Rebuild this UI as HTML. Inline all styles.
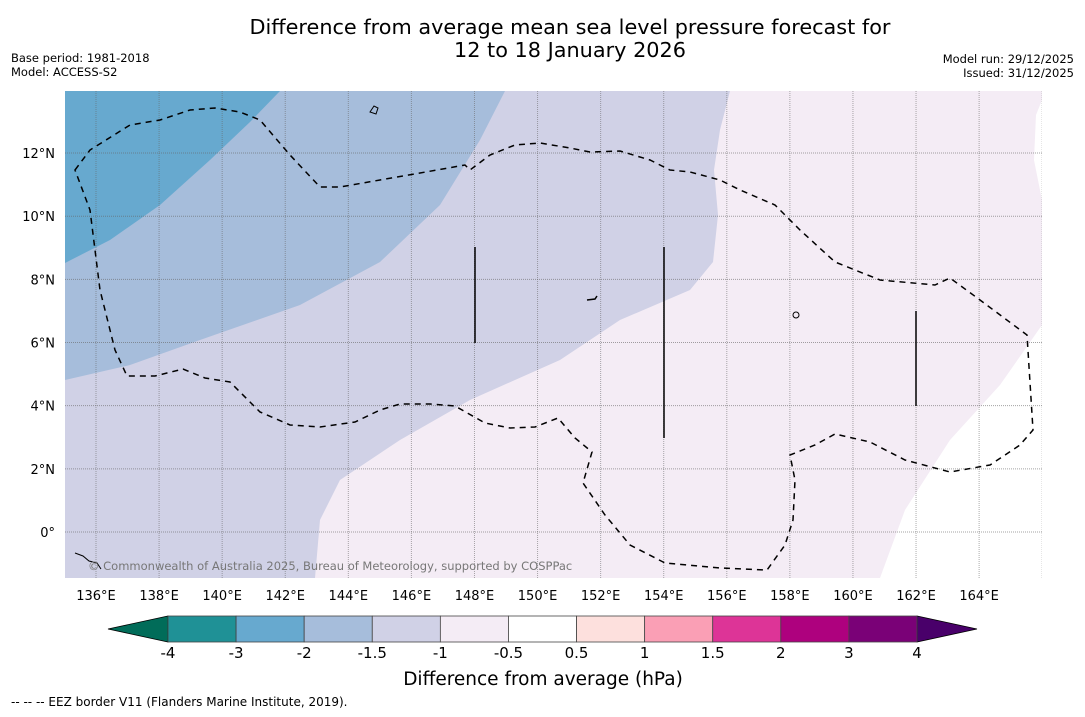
<!DOCTYPE html>
<html><head><meta charset="utf-8">
<style>
body{margin:0;background:#fff;font-family:"DejaVu Sans","Liberation Sans",sans-serif;}
svg text{font-family:"DejaVu Sans","Liberation Sans",sans-serif;}
</style></head>
<body>
<svg id="c" width="1085" height="713" viewBox="0 0 1085 713" xmlns="http://www.w3.org/2000/svg">
<rect width="1085" height="713" fill="#fff"/>
<text x="570" y="34" font-size="20.8" text-anchor="middle">Difference from average mean sea level pressure forecast for</text>
<text x="570" y="57" font-size="20.8" text-anchor="middle">12 to 18 January 2026</text>
<text x="11" y="62" font-size="11.5">Base period: 1981-2018</text>
<text x="11" y="76" font-size="11.5">Model: ACCESS-S2</text>
<text x="1074" y="63" font-size="11.5" text-anchor="end">Model run: 29/12/2025</text>
<text x="1074" y="77" font-size="11.5" text-anchor="end">Issued: 31/12/2025</text>
<defs><clipPath id="mc"><rect x="65" y="91" width="977" height="487"/></clipPath></defs>
<g clip-path="url(#mc)">
<rect x="65" y="91" width="977" height="487" fill="#f4ecf5"/>
<path d="M65,578 L315,578 L320,520 L340,480 L400,440 L470,400 L560,360 L620,320 L690,290 L713,262 L718,215 L714,170 L720,130 L730,91 L65,91Z" fill="#d0d1e6"/>
<path d="M65,380 L130,365 L200,340 L300,305 L380,262 L440,205 L480,140 L505,91 L65,91Z" fill="#a6bddb"/>
<path d="M65,263 L110,240 L160,205 L210,160 L250,122 L280,91 L65,91Z" fill="#67a9cf"/>
<path d="M880,578 L905,510 L950,440 L1000,385 L1042,325 L1042,578Z" fill="#fff"/>
<path d="M1042,100 L1036,115 L1034,160 L1042,200Z" fill="#fff"/>
<g id="grid"></g>
<path d="M75,170 L90,150 L130,125 L160,120 L190,110 L215,108 L240,112 L260,120 L290,155 L320,187 L340,187 L380,180 L420,173 L465,165 L470,170 L490,155 L515,145 L540,143 L570,148 L590,152 L620,151 L650,160 L670,170 L690,172 L720,180 L740,190 L775,205 L800,230 L835,262 L880,280 L935,285 L950,278 L980,300 L1027,335 L1033,430 L1020,445 L990,465 L950,472 L905,460 L870,442 L835,434 L815,445 L790,455 L795,480 L793,520 L785,545 L767,570 L720,568 L665,563 L630,545 L605,515 L583,483 L592,452 L575,438 L558,418 L535,427 L510,428 L485,423 L455,406 L430,404 L400,404 L380,410 L355,422 L320,427 L290,425 L260,412 L230,382 L205,378 L183,369 L155,376 L127,376 L115,350 L100,290 L90,210Z" fill="none" stroke="#000" stroke-width="1.5" stroke-dasharray="6,5"/>
<g stroke="#000" stroke-width="1.5">
<line x1="475" y1="247" x2="475" y2="343"/>
<line x1="664" y1="247" x2="664" y2="438"/>
<line x1="916" y1="311" x2="916" y2="406"/>
<path d="M370,112 l4,-6 l4,2 l-2,6z" fill="none" stroke-width="1"/>
<path d="M793,315 a3,3 0 1,0 6,0 a3,3 0 1,0 -6,0" fill="none" stroke-width="1"/>
<path d="M587,300 l8,-1 l2,-3" fill="none" stroke-width="1.5"/>
<path d="M75,553 l8,3 l6,5 l8,2 l4,6" fill="none" stroke-width="1"/>
</g>
<text x="88" y="570" font-size="11.5" fill="#777">© Commonwealth of Australia 2025, Bureau of Meteorology, supported by COSPPac</text>
</g>
<g id="axes"></g>
<g id="cbar"></g>
<text x="543" y="685" font-size="18.5" text-anchor="middle">Difference from average (hPa)</text>
<text x="11" y="706" font-size="12">--  --  -- EEZ border V11 (Flanders Marine Institute, 2019).</text>
</svg>
<script>
const lonTicks=[136,138,140,142,144,146,148,150,152,154,156,158,160,162,164];
const latTicks=[0,2,4,6,8,10,12];
const cbarLabels=["-4","-3","-2","-1.5","-1","-0.5","0.5","1","1.5","2","3","4"];
const cbarColors=["#1f9196","#67a9cf","#a6bddb","#d0d1e6","#f4ecf5","#ffffff","#fde0dd","#fa9fb5","#dd3497","#ae017e","#7a0177"];
const lowColor="#016c59", highColor="#49006a";
const NS="http://www.w3.org/2000/svg";
const X=lon=>96+(lon-136)*31.54;
const Y=lat=>532-lat*31.58;
function mk(tag,attrs,parent){const e=document.createElementNS(NS,tag);for(const k in attrs)e.setAttribute(k,attrs[k]);parent.appendChild(e);return e;}
const grid=document.getElementById('grid'),axes=document.getElementById('axes'),cb=document.getElementById('cbar');
for(let lon=136;lon<=166;lon+=2){
 const l=mk('line',{x1:X(lon),x2:X(lon),y1:91,y2:578,stroke:'#666','stroke-opacity':0.55,'stroke-width':1,'stroke-dasharray':'1,1'},grid);
 
 
}
for(let lat=-2;lat<=14;lat+=2){
 const l=mk('line',{x1:65,x2:1042,y1:Y(lat),y2:Y(lat),stroke:'#666','stroke-opacity':0.6,'stroke-width':1,'stroke-dasharray':'1,1'},grid);
 
 
}
lonTicks.forEach(lon=>{
 const t=mk('text',{x:X(lon),y:600,'font-size':13,'text-anchor':'middle'},axes);t.textContent=lon+'°E';
 
 
});
latTicks.forEach(lat=>{
 const t=mk('text',{x:55,y:Y(lat)+5,'font-size':13,'text-anchor':'end'},axes);t.textContent=lat===0?'0°':lat+'°N';
 
 
});
const x0=168,x1=917,y0=616,y1=642,w=(x1-x0)/cbarColors.length;
const la=mk('polygon',{points:`${x0},${y0} ${x0},${y1} 108,${(y0+y1)/2}`,fill:lowColor,stroke:'#000','stroke-width':0.8},cb);


const ra=mk('polygon',{points:`${x1},${y0} ${x1},${y1} 977,${(y0+y1)/2}`,fill:highColor,stroke:'#000','stroke-width':0.8},cb);


cbarColors.forEach((c,i)=>{
 const r=mk('rect',{x:x0+i*w,y:y0,width:w,height:y1-y0,fill:c,stroke:'#444','stroke-width':0.8},cb);
 
 
});
cbarLabels.forEach((s,i)=>{
 const t=mk('text',{x:x0+i*w,y:658,'font-size':15,'text-anchor':'middle'},cb);t.textContent=s;
 
 
});
</script>
</body></html>
